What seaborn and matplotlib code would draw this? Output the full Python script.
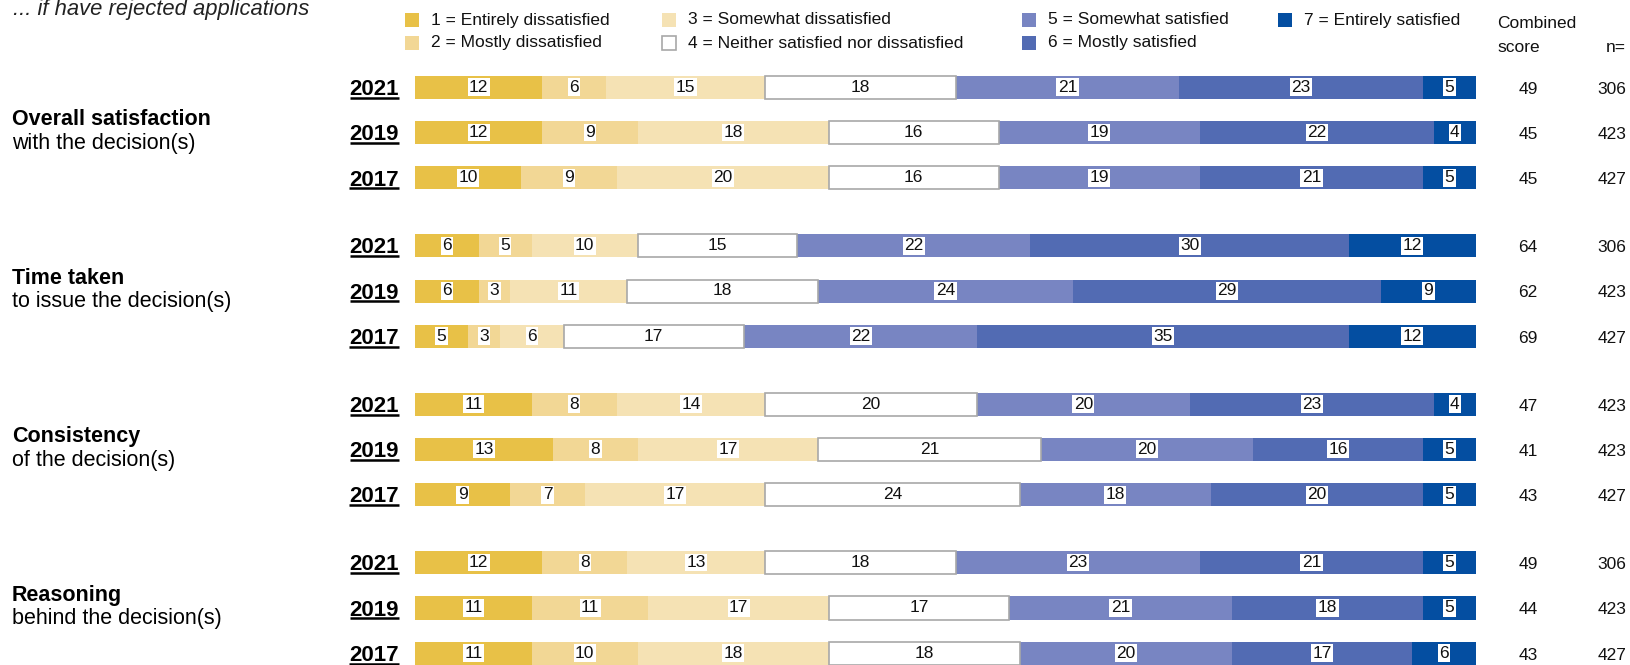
import matplotlib
matplotlib.use("Agg")
import matplotlib.pyplot as plt
import numpy as np
import pandas as pd
import seaborn as sns
from matplotlib.patches import Rectangle

# ---------------- data ----------------
subtitle = "... if have rejected applications"
aspect_titles = ["Overall satisfaction", "Time taken", "Consistency", "Reasoning"]
aspect_subtitles = ["with the decision(s)", "to issue the decision(s)",
                    "of the decision(s)", "behind the decision(s)"]
years = ["2021", "2019", "2017"]
categories = ["1 = Entirely dissatisfied", "2 = Mostly dissatisfied",
              "3 = Somewhat dissatisfied", "4 = Neither satisfied nor dissatisfied",
              "5 = Somewhat satisfied", "6 = Mostly satisfied", "7 = Entirely satisfied"]

overall_satisfaction = [[12, 6, 15, 18, 21, 23, 5],
                        [12, 9, 18, 16, 19, 22, 4],
                        [10, 9, 20, 16, 19, 21, 5]]
time_taken = [[6, 5, 10, 15, 22, 30, 12],
              [6, 3, 11, 18, 24, 29, 9],
              [5, 3, 6, 17, 22, 35, 12]]
consistency = [[11, 8, 14, 20, 20, 23, 4],
               [13, 8, 17, 21, 20, 16, 5],
               [9, 7, 17, 24, 18, 20, 5]]
reasoning = [[12, 8, 13, 18, 23, 21, 5],
             [11, 11, 17, 17, 21, 18, 5],
             [11, 10, 18, 18, 20, 17, 6]]
combined_score = [[49, 45, 45], [64, 62, 69], [47, 41, 43], [49, 44, 43]]
n_respondents = [[306, 423, 427], [306, 423, 427], [423, 423, 427], [306, 423, 427]]
header_combined = ["Combined", "score"]
header_n = "n="

# ---------------- style ----------------
colors = ["#E8C147", "#F2D795", "#F5E2B4", "#FFFFFF", "#7885C2", "#526BB3", "#044EA1"]
NEUTRAL_EDGE = "#A8A8A8"

sns.set_theme(style="white")
plt.rcParams["font.family"] = ["Liberation Sans", "DejaVu Sans"]

W, H = 1631, 665
fig = plt.figure(figsize=(W / 100, H / 100), dpi=100)
BAR_L, BAR_R = 415, 1476
ROW0, ROW_STEP = 87.4, 45.27
BAR_H = 0.51
ax = fig.add_axes([BAR_L / W, 0, (BAR_R - BAR_L) / W, 1])


def X(px):
    return (px - BAR_L) / (BAR_R - BAR_L) * 100


def Y_off(dpx):
    return dpx / ROW_STEP


def fx(px):
    return px / W


def fy(py):
    return 1 - py / H


# ---------------- build table ----------------
all_data = [overall_satisfaction, time_taken, consistency, reasoning]
rows = []
for g, block in enumerate(all_data):
    for r, vals in enumerate(block):
        vals = np.array(vals, dtype=float)
        share = vals / vals.sum() * 100
        cum = np.cumsum(share)
        rec = {"ypos": g * 3.5 + r, "group": g, "year": years[r],
               "score": combined_score[g][r], "n": n_respondents[g][r]}
        for k in range(7):
            rec[f"v{k}"] = int(vals[k])
            rec[f"s{k}"] = share[k]
            rec[f"cum{k}"] = cum[k]
        rows.append(rec)
df = pd.DataFrame(rows)

# stacked bars drawn as overlapping cumulative layers
for k in range(6, -1, -1):
    sns.barplot(data=df, x=f"cum{k}", y="ypos", orient="h", native_scale=True,
                width=BAR_H, color=colors[k], saturation=1, linewidth=0,
                errorbar=None, ax=ax, zorder=2)

# neutral segment outline (segment index 3 starts where segment 2 ends)
ax.barh(df["ypos"], df["s3"], left=df["cum2"], height=BAR_H, fill=False,
        edgecolor=NEUTRAL_EDGE, linewidth=1.2, zorder=3)

ax.set_xlim(0, 100)
ax.set_ylim((H - ROW0) / ROW_STEP, -ROW0 / ROW_STEP)
ax.set_axis_off()

# segment labels
for _, rec in df.iterrows():
    start = 0.0
    for k in range(7):
        s = rec[f"s{k}"]
        ax.text(start + s / 2, rec["ypos"] + Y_off(4.3), str(rec[f"v{k}"]),
                ha="center", va="baseline", fontsize=12.5, color="#111111", zorder=5,
                bbox=dict(boxstyle="square,pad=0.08", fc="white", ec="none"))
        start += s
    # combined score and n
    ax.text(X(1528), rec["ypos"] + Y_off(6.3), str(rec["score"]), ha="center",
            va="baseline", fontsize=12.5, color="#111111", clip_on=False)
    ax.text(X(1612), rec["ypos"] + Y_off(6.3), str(rec["n"]), ha="center",
            va="baseline", fontsize=12.5, color="#111111", clip_on=False)

# year labels (bold, underlined)
year_texts = []
for _, rec in df.iterrows():
    t = ax.text(X(399), rec["ypos"] + Y_off(7.6), rec["year"], ha="right", va="baseline",
                fontsize=16, fontweight="bold", color="black", clip_on=False)
    year_texts.append((t, rec["ypos"]))

# aspect labels
for g in range(4):
    mid = g * 3.5 + 1
    ax.text(X(12), mid - Y_off(7.5), aspect_titles[g], ha="left", va="baseline",
            fontsize=15.5, fontweight="bold", color="black", clip_on=False)
    ax.text(X(12), mid + Y_off(16), aspect_subtitles[g], ha="left", va="baseline",
            fontsize=15.5, color="black", clip_on=False)

# subtitle
fig.text(fx(13), fy(15), subtitle, ha="left", va="baseline", fontsize=15.8,
         style="italic", color="#222222")

# headers
fig.text(fx(1497), fy(23), header_combined[0], ha="left", va="center", fontsize=12.5, color="#111111")
fig.text(fx(1497), fy(48), header_combined[1], ha="left", va="center", fontsize=12.5, color="#111111")
fig.text(fx(1626), fy(48), header_n, ha="right", va="center", fontsize=12.5, color="#111111")

# legend (manual, 4 columns)
leg_cols_x = [405, 662, 1022, 1278]
leg_rows_y = [20, 43]
SQ = 14
for k, lab in enumerate(categories):
    c, r = divmod(k, 2)
    x0 = leg_cols_x[c]
    yc = leg_rows_y[r]
    ec = NEUTRAL_EDGE if k == 3 else "none"
    fig.add_artist(Rectangle((fx(x0), fy(yc + SQ / 2)), SQ / W, SQ / H,
                             transform=fig.transFigure, facecolor=colors[k],
                             edgecolor=ec, linewidth=1.2))
    fig.text(fx(x0 + 26), fy(yc), lab, ha="left", va="center", fontsize=12.5, color="#111111")

# underline the years
fig.canvas.draw()
renderer = fig.canvas.get_renderer()
inv = ax.transData.inverted()
for t, ypos in year_texts:
    bb = t.get_window_extent(renderer)
    x0d = inv.transform((bb.x0, 0))[0]
    x1d = inv.transform((bb.x1, 0))[0]
    yl = ypos + Y_off(10.3)
    ax.plot([x0d, x1d], [yl, yl], color="black", linewidth=1.8,
            solid_capstyle="butt", clip_on=False, zorder=5)

fig.savefig("out.png", dpi=100)
